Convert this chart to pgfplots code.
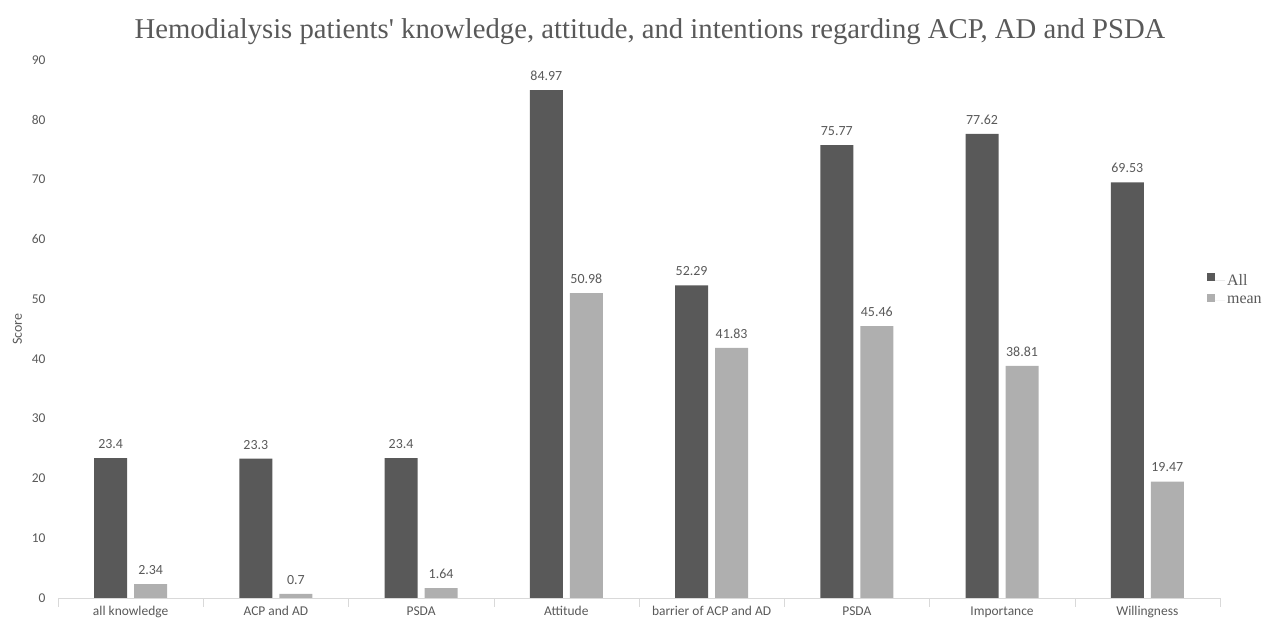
\documentclass[border=0pt]{standalone}
\usepackage{pgfplots}
\pgfplotsset{compat=1.18}
\usepackage{fontspec}
\setmainfont{Carlito}
\newfontfamily\serif{Liberation Serif}
\definecolor{darkbar}{HTML}{595959}
\definecolor{lightbar}{HTML}{AFAFAF}
\definecolor{txt}{HTML}{595959}
\definecolor{axisgray}{HTML}{D9D9D9}
\begin{document}
\begin{tikzpicture}[x=1bp,y=1bp]
\useasboundingbox (0,0) rectangle (1266,624);
\begin{axis}[
  at={(58bp,26bp)}, anchor=south west,
  scale only axis,
  width=1162bp, height=538bp,
  xmin=-0.5, xmax=7.5, ymin=0, ymax=90,
  ybar=7bp, bar width=33bp,
  xtick={0,...,7},
  xticklabels={all knowledge,ACP and AD,PSDA,Attitude,barrier of ACP and AD,PSDA,Importance,Willingness},
  minor xtick={-0.5,0.5,...,7.5},
  major tick length=0pt,
  minor tick length=9bp,
  tick align=outside,
  axis x line*=bottom,
  axis y line*=left,
  x tick style={draw=axisgray},
  minor x tick style={draw=axisgray},
  ytick={0,10,...,90},
  y tick style={draw=none},
  x axis line style={draw=axisgray, -},
  y axis line style={draw=none, -},
  every tick label/.append style={font=\fontsize{13.5}{16}\selectfont, text=txt},
  xticklabel style={yshift=-5bp},
  yticklabel style={xshift=-9bp},
  /pgf/number format/assume math mode=true,
  ylabel={Score},
  ylabel style={font=\fontsize{14}{16}\selectfont, text=txt, yshift=3bp},
  nodes near coords,
  every node near coord/.append style={font=\fontsize{14}{16}\selectfont, text=txt, yshift=6bp},
  legend style={draw=none, fill=none, at={(1.0,0.61)}, anchor=north west, xshift=-16bp,
    font=\serif\fontsize{16}{19}\selectfont, text=txt, row sep=5bp},
  legend image code/.code={\fill[#1] (-2bp,-1bp) rectangle (6bp,7bp); \path (-2bp,0bp) -- (16bp,0bp);},
  legend cell align=left,
  point meta=explicit symbolic,
]
\addplot[fill=darkbar, draw=none] coordinates {
 (0,23.4)[23.4] (1,23.3)[23.3] (2,23.4)[23.4] (3,84.97)[84.97]
 (4,52.29)[52.29] (5,75.77)[75.77] (6,77.62)[77.62] (7,69.53)[69.53]};
\addplot[fill=lightbar, draw=none] coordinates {
 (0,2.34)[2.34] (1,0.7)[0.7] (2,1.64)[1.64] (3,50.98)[50.98]
 (4,41.83)[41.83] (5,45.46)[45.46] (6,38.81)[38.81] (7,19.47)[19.47]};
\legend{All,mean}
\end{axis}
\node[font=\serif\fontsize{28.8}{32}\selectfont, text=txt] at (650,592) {Hemodialysis patients' knowledge, attitude, and intentions regarding ACP, AD and PSDA};
\end{tikzpicture}
\end{document}
